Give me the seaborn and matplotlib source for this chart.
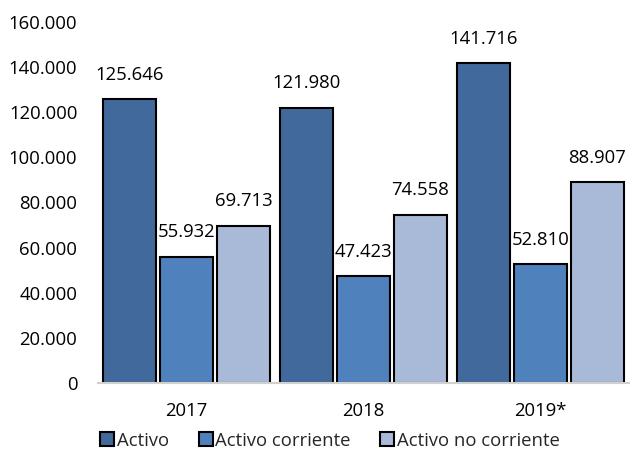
import matplotlib
matplotlib.use("Agg")
import matplotlib.pyplot as plt
from matplotlib.ticker import FuncFormatter
import seaborn as sns
import pandas as pd

years = ["2017", "2018", "2019*"]
series = ["Activo", "Activo corriente", "Activo no corriente"]
activo = [125646, 121980, 141716]
activo_corriente = [55932, 47423, 52810]
activo_no_corriente = [69713, 74558, 88907]
colors = ["#41699B", "#4F81BD", "#A9B9D8"]

df = pd.DataFrame({
    "year": years * 3,
    "serie": [s for s in series for _ in years],
    "valor": activo + activo_corriente + activo_no_corriente,
})

sns.set_theme(style="white")
plt.rcParams["font.family"] = ["Open Sans", "DejaVu Sans"]
FS = 13.3


def miles(v, pos=None):
    return f"{int(round(v)):,}".replace(",", ".")


fig = plt.figure(figsize=(6.3, 4.57), dpi=100)
ax = fig.add_axes([0.156, 0.162, 0.842, 0.79])

sns.barplot(data=df, x="year", y="valor", hue="serie", order=years,
            hue_order=series, palette=colors, saturation=1, width=0.966,
            gap=0.07, edgecolor="black", linewidth=1.5, ax=ax, legend=True)

for cont in ax.containers:
    ax.bar_label(cont, labels=[miles(v) for v in cont.datavalues],
                 padding=11, fontsize=FS, color="black")

ax.set_ylim(0, 160000)
ax.set_xlim(-0.5, 2.5)
ax.set_yticks(range(0, 160001, 20000))
ax.yaxis.set_major_formatter(FuncFormatter(miles))
ax.tick_params(axis="y", length=0, pad=15, labelsize=FS, labelcolor="black")
ax.tick_params(axis="x", length=0, pad=14, labelsize=FS, labelcolor="black")
ax.set_xlabel("")
ax.set_ylabel("")
for s in ["top", "right", "left"]:
    ax.spines[s].set_visible(False)
ax.spines["bottom"].set_color("#D0D0D0")
ax.spines["bottom"].set_linewidth(1.5)

handles, labels = ax.get_legend_handles_labels()
ax.get_legend().remove()
leg = fig.legend(handles, labels, loc="center", bbox_to_anchor=(0.524, 0.036),
                 ncol=3, frameon=False, fontsize=FS, handlelength=0.75,
                 handleheight=0.75, handletextpad=0.15, columnspacing=1.6)
for h in leg.legend_handles:
    h.set_edgecolor("black")
    h.set_linewidth(1.5)

fig.savefig("out.png", dpi=100)
